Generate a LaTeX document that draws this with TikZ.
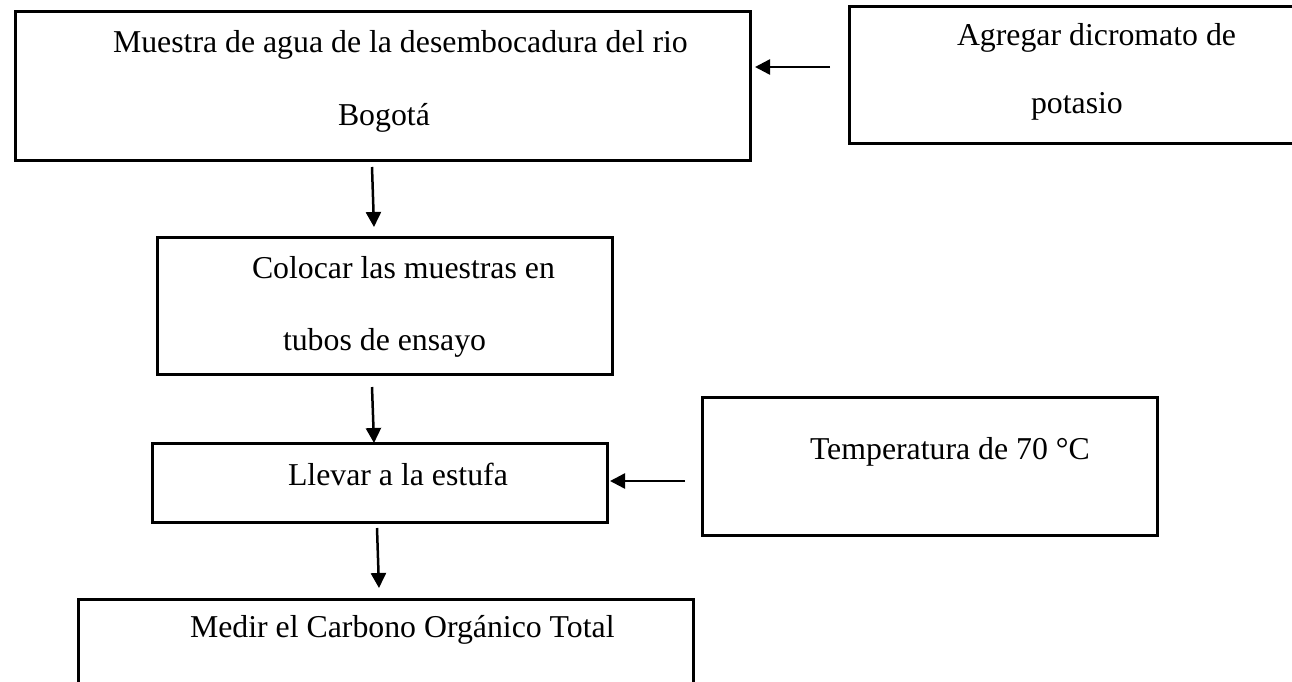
\documentclass[tikz,border=0pt]{standalone}
\usepackage{fontspec}
\setmainfont{Liberation Serif}
\usetikzlibrary{arrows.meta,calc}
\tikzset{
  box/.style={draw=black, line width=3pt, rectangle, inner sep=0pt, outer sep=0pt},
  lbl/.style={anchor=base west, inner sep=0pt, outer sep=0pt, font=\fontsize{31.8}{38}\selectfont},
  arr/.style={line width=2.5pt, -{Triangle[length=15pt,width=15pt]}}
}
\begin{document}
\begin{tikzpicture}[x=1pt,y=-1pt]
\useasboundingbox (0,0) rectangle (1292,681);
\clip (0,0) rectangle (1292,681);
\fill[white] (0,0) rectangle (1292,681);
% boxes
\node[box, minimum width=735pt, minimum height=149pt] (b1) at (382.5,85.5) {};
\node[box, minimum width=451pt, minimum height=137pt] (b2) at (1074.5,74.5) {};
\node[box, minimum width=455pt, minimum height=137pt] (b3) at (384.5,305.5) {};
\node[box, minimum width=455pt, minimum height=79pt] (b4) at (379.5,482.5) {};
\node[box, minimum width=455pt, minimum height=138pt] (b5) at (929.5,466) {};
\node[box, minimum width=615pt, minimum height=101pt] (b6) at (385.5,649.5) {};
% texts
\node[lbl] (t1a) at (113,52) {Muestra de agua de la desembocadura del rio};
\node[lbl] (t1b) at (338,125) {Bogotá};
\node[lbl] (t2a) at (957,45) {Agregar dicromato de};
\node[lbl] (t2b) at (1031,113) {potasio};
\node[lbl] (t3a) at (252,278) {Colocar las muestras en};
\node[lbl] (t3b) at (283,350) {tubos de ensayo};
\node[lbl] (t4) at (288,485) {Llevar a la estufa};
\node[lbl] (t5) at (810,459) {Temperatura de 70 °C};
\node[lbl] (t6) at (190,637) {Medir el Carbono Orgánico Total};
% connector free ends
\coordinate (a1s) at (830,67);
\coordinate (a2s) at (372,167);
\coordinate (a3s) at (372,387);
\coordinate (a4s) at (685,481);
\coordinate (a5s) at (377,528);
% connectors
\draw[arr] (a1s) -- ($(b1.east |- a1s)+(5,0)$);
\draw[arr] (a2s) -- ($(b3.north)+(-10.5,-10)$);
\draw[arr] (a3s) -- ($(b4.north)+(-5.5,0)$);
\draw[arr] (a4s) -- ($(b4.east |- a4s)+(3,0)$);
\draw[arr] (a5s) -- ($(b6.north)+(-6.5,-11)$);
\end{tikzpicture}
\end{document}
